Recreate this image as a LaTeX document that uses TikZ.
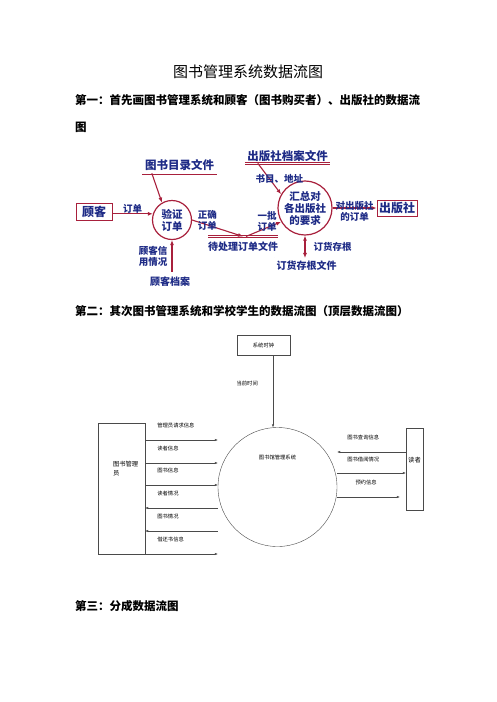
\documentclass[tikz,border=0pt]{standalone}
\usepackage{fontspec}
\newfontfamily\cjk{Noto Sans CJK SC}
\usetikzlibrary{arrows.meta, positioning}
\definecolor{dfdred}{HTML}{A8203C}
\definecolor{dfdnavy}{HTML}{1E2B86}
\definecolor{dfdgray}{HTML}{4A4A4A}

\begin{document}
\begin{tikzpicture}[
    x=1pt, y=-1pt,
    pagetitle/.style={font=\cjk\fontsize{15}{15}\selectfont, inner sep=0pt},
    heading/.style={font=\cjk\bfseries\fontsize{11.5}{11.5}\selectfont, anchor=west, inner sep=0pt},
    ext/.style={rectangle, draw=dfdred, line width=0.8pt, text=dfdnavy, font=\cjk\bfseries\fontsize{12}{12}\selectfont, inner sep=0pt},
    proc/.style={circle, draw=dfdred, line width=1.2pt, text=dfdnavy, align=center, inner sep=0pt, font=\cjk\bfseries\fontsize{10.5}{12}\selectfont},
    store/.style={text=dfdnavy, inner xsep=0pt, inner ysep=1pt},
    dline/.style={draw=dfdred, double, double distance=1.6pt, line width=0.6pt},
    lbl/.style={text=dfdnavy, font=\cjk\bfseries\fontsize{9.5}{11}\selectfont, align=center, inner sep=0pt},
    flow/.style={-{Latex[length=5pt, width=4pt]}, draw=dfdred, line width=1.1pt},
    dflow/.style={{Latex[length=5pt, width=4pt]}-{Latex[length=5pt, width=4pt]}, draw=dfdred, line width=1.1pt},
    box/.style={rectangle, draw=dfdgray, line width=0.4pt, inner sep=0pt},
    smalltext/.style={font=\cjk\fontsize{5.3}{7}\selectfont, inner sep=0pt},
    dataflow/.style={-{Latex[length=3pt, width=2.4pt]}, draw=dfdgray, line width=0.4pt},
    backflow/.style={{Latex[length=3pt, width=2.4pt]}-, draw=dfdgray, line width=0.4pt},
    leftlbl/.style={smalltext, anchor=west, pos=0.165, yshift=15pt}
]
\useasboundingbox (0,0) rectangle (496,702);

% Title and first heading
\node[pagetitle] (ttl) at (248,72) {图书管理系统数据流图};
\node[heading] (h1) at (75,100) {第一：首先画图书管理系统和顾客（图书购买者）、出版社的数据流};
\node[heading] (h1b) at (75,127) {图};

% First diagram: customers and publishers
\node[ext, minimum width=36pt, minimum height=17pt] (cust) at (94,211.5) {顾客};
\node[proc, minimum size=39pt] (verify) at (172,220) {验证\\订单};
\node[proc, minimum size=50pt] (summ) at (305,208) {汇总对\\各出版社\\的要求};
\node[ext, minimum width=40pt, minimum height=16pt] (pub) at (397,208) {出版社};

\node[store, font=\cjk\bfseries\fontsize{11.5}{12}\selectfont, minimum width=75pt] (catf) at (179.5,165) {图书目录文件};
\node[store, font=\cjk\bfseries\fontsize{11.5}{12}\selectfont, minimum width=85pt] (pubf) at (287.5,156) {出版社档案文件};
\node[store, font=\cjk\bfseries\fontsize{10}{11}\selectfont, minimum width=68pt] (pnd) at (243,247) {待处理订单文件};
\node[store, font=\cjk\bfseries\fontsize{10}{11}\selectfont, minimum width=63pt] (stubf) at (306.5,266) {订货存根文件};
\node[store, font=\cjk\bfseries\fontsize{10}{11}\selectfont, minimum width=46pt] (custf) at (170,282) {顾客档案};

\draw[dline] ([yshift=-1.5pt]catf.south west) -- ([yshift=-1.5pt]catf.south east);
\draw[dline] ([yshift=-0.5pt]pubf.south west) -- ([yshift=-0.5pt]pubf.south east);
\draw[dline] ([yshift=4.5pt]pnd.north west) -- ([yshift=4.5pt]pnd.north east);
\draw[dline] ([yshift=2pt]stubf.north west) -- ([yshift=2pt]stubf.north east);
\draw[dline] ([yshift=4pt]custf.north west) -- ([yshift=4pt]custf.north east);
\coordinate (pndtop) at ([yshift=4.5pt]pnd.north);
\coordinate (stubtop) at ([yshift=2pt]stubf.north);
\coordinate (custtop) at ([yshift=4pt]custf.north);

\draw[flow] (cust.east |- verify.162) -- node[lbl, above] {订单} (verify.162);
\draw[flow] ([xshift=10pt,yshift=-1.5pt]catf.south west) -- (verify.120);
\draw[flow] (verify.south |- custtop) -- node[lbl, left=4pt] {顾客信\\用情况} (verify.south);
\draw[flow] (verify.0) -- node[lbl, pos=0.3, above=-6pt] {正确\\订单} (pndtop);
\draw[flow] ([xshift=3pt]pndtop) -- node[lbl, pos=0.6, above=-4pt] {一批\\订单} (summ.210);
\draw[flow] ([xshift=13pt,yshift=-0.5pt]pubf.south west) -- node[lbl, xshift=10pt] {书目、地址} (summ.150);
\draw[flow] (summ) -- node[lbl, above=-3pt] {对出版社} node[lbl, below=4pt] {的订单} (pub);
\draw[dflow] (summ.south) -- node[lbl, right=8pt] {订货存根} (summ.south |- stubtop);

% Second heading and top-level diagram
\node[heading] (h2) at (75,311) {第二：其次图书管理系统和学校学生的数据流图（顶层数据流图）};

\node[box, smalltext, minimum width=53pt, minimum height=20pt] (clock) at (263.5,345) {系统时钟};
\node[box, circle, minimum size=119pt, label={[smalltext, yshift=30pt]center:图书馆管理系统}] (sys) at (277.5,487) {};
\node[box, minimum width=47pt, minimum height=131pt, label={[smalltext, font=\cjk\fontsize{6.3}{9}\selectfont, align=left, anchor=north west, xshift=15pt, yshift=-38pt]north west:图书管理\\员}] (mgr) at (121.5,488.5) {};
\node[box, minimum width=17pt, minimum height=82pt, label={[smalltext, font=\cjk\fontsize{6.3}{8}\selectfont, yshift=9pt]center:读者}] (reader) at (414.5,469) {};

\draw[dataflow] ([xshift=9.5pt]clock.south) -- node[smalltext, pos=0.39, left=15pt] {当前时间} ([xshift=9.5pt]clock.south |- sys.north);

\draw[dataflow] (mgr.east |- 0,440) -- node[leftlbl] {管理员请求信息} (sys.west |- 0,440);
\draw[dataflow] (mgr.east |- 0,463) -- node[leftlbl] {读者信息} (sys.west |- 0,463);
\draw[dataflow] (mgr.east |- 0,485) -- node[leftlbl] {图书信息} (sys.west |- 0,485);
\draw[backflow] (mgr.east |- 0,508) -- node[leftlbl] {读者情况} (sys.west |- 0,508);
\draw[backflow] (mgr.east |- 0,531) -- node[leftlbl] {图书情况} (sys.west |- 0,531);
\draw[dataflow] (mgr.east |- 0,554) -- node[leftlbl] {借还书信息} (sys.west |- 0,554);

\draw[backflow] (sys.east |- 0,452) -- node[smalltext, anchor=west, pos=0.145, yshift=15pt] {图书查询信息} (reader.west |- 0,452);
\draw[dataflow] (sys.east |- 0,473) -- node[smalltext, anchor=west, pos=0.145, yshift=14pt] {图书借阅情况} (reader.west |- 0,473);
\draw[dataflow] (sys.east |- 0,497) -- node[smalltext, anchor=west, pos=0.29, yshift=15pt] {预约信息} ([xshift=-6pt]reader.west |- 0,497);

% Third heading
\node[heading] (h3) at (75,606) {第三：分成数据流图};

\end{tikzpicture}
\end{document}
